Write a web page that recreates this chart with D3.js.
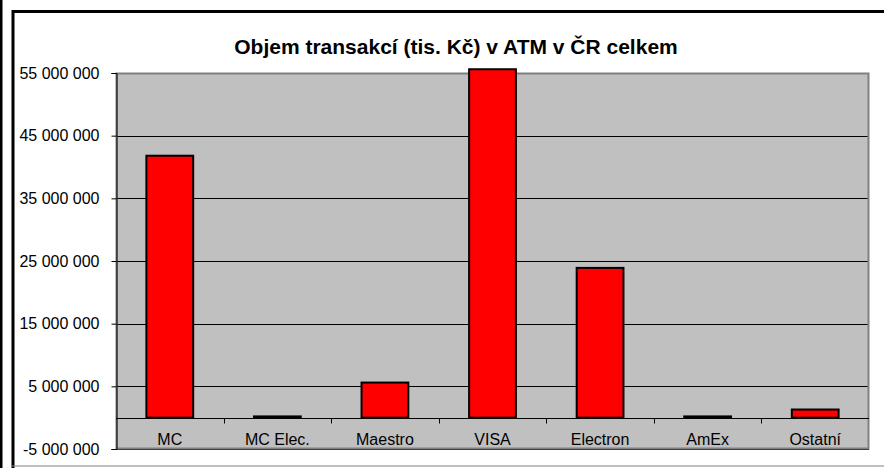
<!DOCTYPE html>
<html>
<head>
<meta charset="utf-8">
<script src="https://cdn.jsdelivr.net/npm/d3@7"></script>
<style>
  body { margin: 0; background: #fff; }
  svg { display: block; font-family: Arial, "Liberation Sans", sans-serif; }
</style>
</head>
<body>
<svg id="chart" width="884" height="468"></svg>
<script>
// data
const categories = ["MC", "MC Elec.", "Maestro", "VISA", "Electron", "AmEx", "Ostatní"];
const values = [41800000, 200000, 5600000, 55600000, 23900000, 200000, 1300000];
const yTicks = [-5000000, 5000000, 15000000, 25000000, 35000000, 45000000, 55000000];
const title = "Objem transakcí (tis. Kč) v ATM v ČR celkem";

const svg = d3.select("#chart");
const plotL = 116, plotR = 869, plotT = 73, plotB = 449;

// outer frame pieces
svg.append("line").attr("x1", 1).attr("x2", 1).attr("y1", 0).attr("y2", 468)
	.attr("stroke", "#000").attr("stroke-width", 3);
svg.append("line").attr("x1", 13).attr("x2", 13).attr("y1", 10).attr("y2", 468)
	.attr("stroke", "#000").attr("stroke-width", 3);
svg.append("line").attr("x1", 12).attr("x2", 884).attr("y1", 11.5).attr("y2", 11.5)
	.attr("stroke", "#000").attr("stroke-width", 3);
svg.append("line").attr("x1", 12).attr("x2", 884).attr("y1", 466).attr("y2", 466)
	.attr("stroke", "#808080").attr("stroke-width", 1);

let y = d3.scaleLinear().domain([-5000000, 55000000]).range([plotB, plotT]);
let x = d3.scaleBand().domain(categories).range([plotL, plotR]).paddingInner(0.565).paddingOuter(0.2825);
let step = x.step();

// plot area
svg.append("rect").attr("x", plotL).attr("y", plotT)
	.attr("width", plotR - plotL).attr("height", plotB - plotT)
	.attr("fill", "#c0c0c0");

// gridlines
svg.append("g").selectAll("line").data(yTicks.slice(0, -1)).enter().append("line")
	.attr("x1", plotL).attr("x2", plotR)
	.attr("y1", d => Math.round(y(d)) + 0.5).attr("y2", d => Math.round(y(d)) + 0.5)
	.attr("stroke", "#000").attr("stroke-width", 1);

svg.append("rect").attr("x", plotL + 0.5).attr("y", plotT + 0.5)
	.attr("width", plotR - plotL - 1).attr("height", plotB - plotT - 1)
	.attr("fill", "none").attr("stroke", "#808080").attr("stroke-width", 2);

// y axis
let fmt = d => d3.format(",")(d).replace(/,/g, " ").replace("−", "-");
let yAxis = svg.append("g").attr("transform", `translate(${plotL + 0.5},0)`)
	.call(d3.axisLeft(y).tickValues(yTicks).tickSize(5).tickPadding(12).tickFormat(fmt));
yAxis.select(".domain").attr("stroke", "#000");
yAxis.selectAll(".tick line").attr("stroke", "#000");
yAxis.selectAll("text").attr("font-size", 16).attr("fill", "#000")
	.attr("font-family", "Arial, 'Liberation Sans', sans-serif");

// bars
svg.append("g").selectAll("rect").data(values).enter().append("rect")
	.attr("x", (d, i) => x(categories[i]))
	.attr("y", d => Math.max(y(d), plotT - 4))
	.attr("width", x.bandwidth())
	.attr("height", d => y(0) - Math.max(y(d), plotT - 4))
	.attr("fill", "#ff0000").attr("stroke", "#000").attr("stroke-width", 2);

// x axis at zero
let zeroY = Math.round(y(0)) + 0.5;
svg.append("line").attr("x1", plotL).attr("x2", plotR).attr("y1", zeroY).attr("y2", zeroY)
	.attr("stroke", "#000");
svg.append("g").selectAll("line").data(d3.range(1, categories.length)).enter().append("line")
	.attr("x1", i => Math.round(plotL + i * step) + 0.5).attr("x2", i => Math.round(plotL + i * step) + 0.5)
	.attr("y1", zeroY).attr("y2", zeroY + 5)
	.attr("stroke", "#000");
svg.append("g").selectAll("text").data(categories).enter().append("text")
	.attr("x", d => x(d) + x.bandwidth() / 2)
	.attr("y", 445)
	.attr("text-anchor", "middle")
	.attr("font-size", 16)
	.text(d => d);

// title
svg.append("text").attr("x", 456).attr("y", 54)
	.attr("text-anchor", "middle").attr("font-size", 21).attr("font-weight", "bold")
	.text(title);
</script>
</body>
</html>
